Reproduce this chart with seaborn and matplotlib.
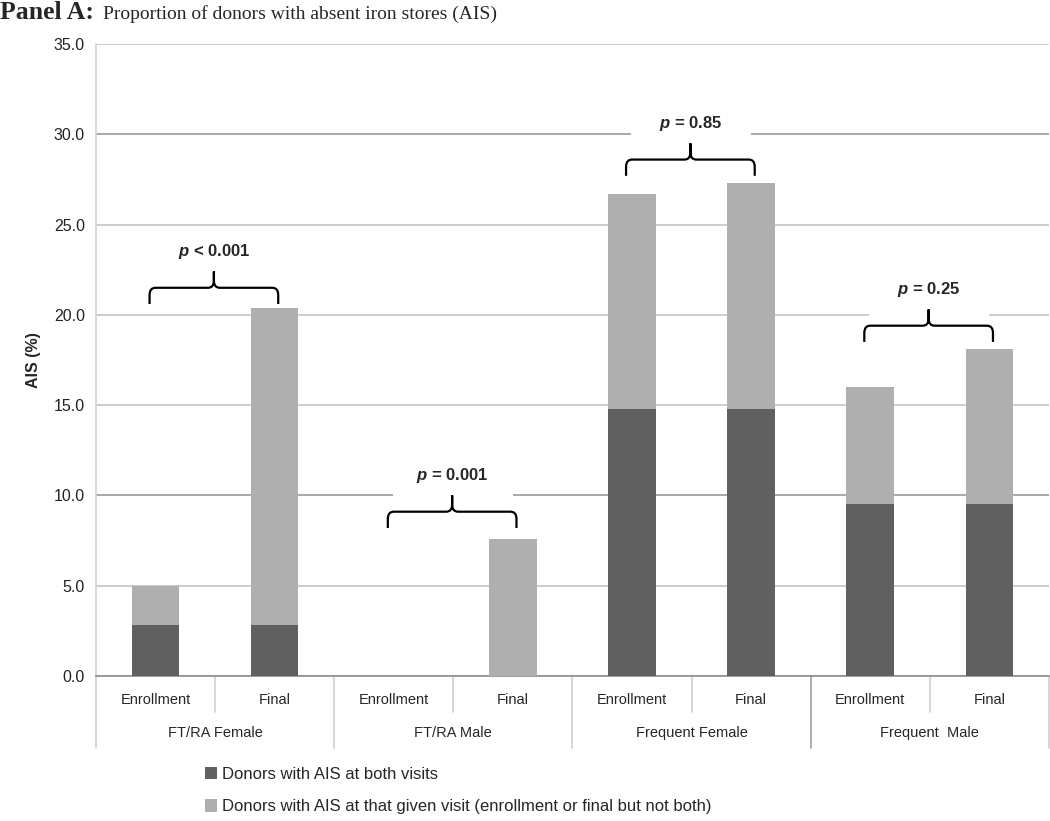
import numpy as np
import pandas as pd
import matplotlib
matplotlib.use("Agg")
import matplotlib.pyplot as plt
from matplotlib.path import Path
from matplotlib.patches import PathPatch, Patch, Rectangle
import seaborn as sns

# data
groups = ["FT/RA Female", "FT/RA Male", "Frequent Female", "Frequent  Male"]
visits = ["Enrollment", "Final"]
both_visits = [2.8, 2.8, 0.0, 0.0, 14.8, 14.8, 9.5, 9.5]
any_visit_total = [5.0, 20.4, 0.0, 7.6, 26.7, 27.3, 16.0, 18.1]
p_labels = ["< 0.001", "= 0.001", "= 0.85", "= 0.25"]
bracket_heights = [21.5, 9.1, 28.6, 19.4]

legend_labels = ["Donors with AIS at both visits",
                 "Donors with AIS at that given visit (enrollment or final but not both)"]

dark = "#606060"
light = "#afafaf"

sns.set_style("white")
plt.rcParams["font.family"] = ["Liberation Sans", "DejaVu Sans"]
plt.rcParams["mathtext.fontset"] = "custom"
plt.rcParams["mathtext.it"] = "Liberation Sans:italic:bold"
plt.rcParams["mathtext.rm"] = "Liberation Sans:bold"

keys = [f"{g}|{v}" for g in groups for v in visits]
df = pd.DataFrame({"key": keys, "both": both_visits, "total": any_visit_total})

fig = plt.figure(figsize=(10.5, 8.21), dpi=100)
ax = fig.add_axes([0.0914, 0.1766, 0.9076, 0.7698])

# light bar = total at that visit, dark bar drawn over it
sns.barplot(data=df, x="key", y="total", order=keys, color=light, width=0.4,
            saturation=1, errorbar=None, ax=ax, zorder=3, linewidth=0)
sns.barplot(data=df, x="key", y="both", order=keys, color=dark, width=0.4,
            saturation=1, errorbar=None, ax=ax, zorder=4, linewidth=0)

ax.set_xlim(-0.5, 7.5)
ax.set_ylim(0, 35)
ax.set_yticks(np.arange(0, 36, 5))
ax.set_yticklabels([f"{t:.1f}" for t in np.arange(0, 36, 5)], fontsize=11.5, color="#222222")
ax.set_xticks([])
ax.set_xlabel("")
ax.set_ylabel("AIS (%)", fontsize=11.5, fontweight="bold", labelpad=9)
ax.tick_params(axis="y", length=4, width=1, color="#b0b0b0", pad=4)

ax.yaxis.grid(True, zorder=0)
ax.set_axisbelow(True)
for t, gl in zip(np.arange(0, 36, 5), ax.get_ygridlines()):
    gl.set_color("#9a9a9a" if t in (10, 30) else "#c4c4c4")
    gl.set_linewidth(1.2)

for s in ["top", "right"]:
    ax.spines[s].set_visible(False)
ax.spines["left"].set_color("#d4d4d4")
ax.spines["left"].set_linewidth(1.2)
ax.spines["bottom"].set_color("#8c8c8c")
ax.spines["bottom"].set_linewidth(1.2)

# two-level category axis
tr = ax.get_xaxis_transform()
for i, k in enumerate(keys):
    ax.text(i, -0.038, k.split("|")[1], transform=tr, ha="center", va="center", fontsize=10.5)
for g, name in enumerate(groups):
    ax.text(2 * g + 0.5, -0.090, name, transform=tr, ha="center", va="center", fontsize=10.5)
    ax.plot([2 * g + 0.5] * 2, [0, -0.057], transform=tr, color="#d0d0d0", lw=1.2, clip_on=False)
for xb in [-0.5, 1.5, 3.5, 5.5, 7.5]:
    c = "#a0a0a0" if xb == 5.5 else "#d0d0d0"
    ax.plot([xb, xb], [0, -0.114], transform=tr, color=c, lw=1.2, clip_on=False)


def brace(x0, x1, y, d=0.9, tip=0.9, rx=0.05, ry=0.4):
    xm = (x0 + x1) / 2
    verts = [(x0, y - d), (x0, y - ry), (x0, y), (x0 + rx, y), (xm - rx, y),
             (xm, y), (xm, y + ry), (xm, y + tip), (xm, y + ry), (xm, y),
             (xm + rx, y), (x1 - rx, y), (x1, y), (x1, y - ry), (x1, y - d)]
    codes = [Path.MOVETO, Path.LINETO, Path.CURVE3, Path.CURVE3, Path.LINETO,
             Path.CURVE3, Path.CURVE3, Path.LINETO, Path.LINETO, Path.CURVE3,
             Path.CURVE3, Path.LINETO, Path.CURVE3, Path.CURVE3, Path.LINETO]
    ax.add_patch(PathPatch(Path(verts, codes), fill=False, lw=1.6,
                           color="black", zorder=6, capstyle="butt"))


for g, (lab, h) in enumerate(zip(p_labels, bracket_heights)):
    x0, x1 = 2 * g - 0.05, 2 * g + 1.03
    ty = h + 2.0
    ax.add_patch(Rectangle((x0 + 0.04, ty - 1.5), (x1 - x0) - 0.07, 2.4,
                           facecolor="white", edgecolor="none", zorder=5))
    brace(x0, x1, h)
    ax.text((x0 + x1) / 2, ty, r"$p$ " + lab, ha="center", va="center",
            fontsize=12, fontweight="bold", zorder=7)

fig.text(0.0, 0.977, "Panel A:", fontsize=18.5, fontweight="bold",
         family="Liberation Serif", va="baseline")
fig.text(0.098, 0.977, "Proportion of donors with absent iron stores (AIS)", fontsize=14,
         family="Liberation Serif", va="baseline")

handles = [Patch(facecolor=dark, edgecolor="none"), Patch(facecolor=light, edgecolor="none")]
fig.legend(handles, legend_labels, loc="upper left", bbox_to_anchor=(0.195, 0.066),
           frameon=False, fontsize=12, handlelength=0.75, handleheight=0.75,
           handletextpad=0.3, labelspacing=1.05, borderaxespad=0, borderpad=0)

fig.savefig("out.png", dpi=100)
